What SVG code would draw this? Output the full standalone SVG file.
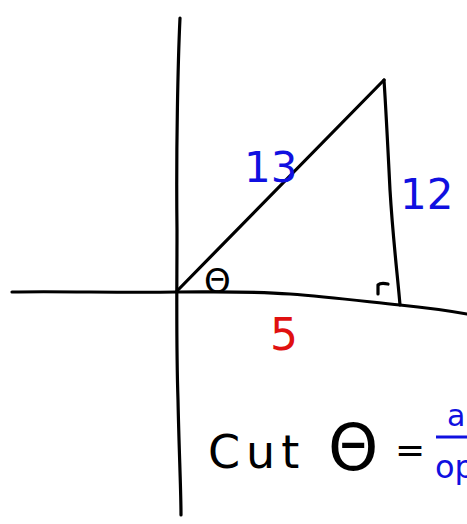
<svg xmlns="http://www.w3.org/2000/svg" width="467" height="524" viewBox="0 0 467 524">
<style>
.ln{fill:none;stroke:#000;stroke-width:3.2;stroke-linecap:round;stroke-linejoin:round}
.blue{fill:#1010e0;font-family:"DejaVu Sans","Liberation Sans",sans-serif}
.red{fill:#e01010;font-family:"DejaVu Sans","Liberation Sans",sans-serif}
.blk{fill:#000;font-family:"DejaVu Sans","Liberation Sans",sans-serif}
</style>
<rect width="467" height="524" fill="#fff"/>
<g id="axes">
<path class="ln" d="M180,18 C178,60 176,150 177,230 C177,290 176,340 178,400 C179,450 181,490 181,515"/>
<path class="ln" d="M12,292 C60,291 120,293 176,292 C220,292 250,291 290,294 C330,297 370,302 400,305 C430,308 450,311 467,314"/>
</g>
<g id="triangle">
<path class="ln" d="M177,291 L384,80"/>
<path class="ln" d="M384,80 C386,110 388,150 390,190 C393,240 398,280 400,305"/>
<path class="ln" d="M378,294 L378,285 C380,283 384,283 388,284" stroke-width="2.8"/>
</g>
<g id="labels">
<text class="blue" x="244" y="182" font-size="42">13</text>
<text class="blue" x="400" y="209" font-size="42">12</text>
<text class="red" x="270" y="350" font-size="44">5</text>
<text class="blk" x="204" y="293" font-size="34">Θ</text>
</g>
<g id="equation">
<text class="blk" x="208" y="468" font-size="46" letter-spacing="6">Cut</text>
<text class="blk" x="328" y="470" font-size="64">Θ</text>
<text class="blk" x="395" y="462" font-size="36">=</text>
<path d="M436,437 L467,437" stroke="#1010e0" stroke-width="3"/>
<text class="blue" x="447" y="426" font-size="30">a</text>
<text class="blue" x="435" y="478" font-size="32">op</text>
</g>
</svg>
